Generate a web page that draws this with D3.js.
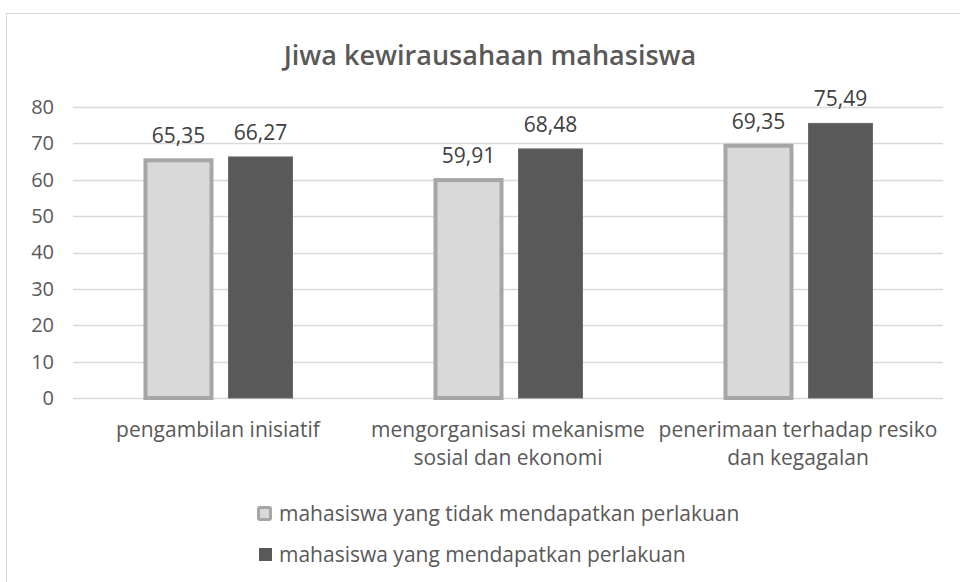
<!DOCTYPE html>
<html>
<head>
<meta charset="utf-8">
<script src="https://cdn.jsdelivr.net/npm/d3@7"></script>
<style>
  body { margin: 0; background: #fff; }
  svg text { font-family: "Open Sans", sans-serif; }
</style>
</head>
<body>
<div id="chart"></div>
<script>
(function() {
    'use strict';

    // data
    var categories = [
        ["pengambilan inisiatif"],
        ["mengorganisasi mekanisme", "sosial dan ekonomi"],
        ["penerimaan terhadap resiko", "dan kegagalan"]
    ];
    var seriesNames = [
        "mahasiswa yang tidak mendapatkan perlakuan",
        "mahasiswa yang mendapatkan perlakuan"
    ];
    var tanpaPerlakuan = [65.35, 59.91, 69.35];
    var denganPerlakuan = [66.27, 68.48, 75.49];
    var yTicks = [0, 10, 20, 30, 40, 50, 60, 70, 80];

    var width = 960, height = 582;
    var plot = {left: 73, right: 943, top: 107, bottom: 398};

    var svg = d3.select("#chart").append("svg")
        .attr("width", width)
        .attr("height", height);

    // chart frame
    svg.append("rect")
        .attr("x", 6.5).attr("y", 13.5)
        .attr("width", width + 10).attr("height", height + 10)
        .attr("fill", "#fff")
        .attr("stroke", "#d9d9d9")
        .attr("stroke-width", 1);

    var catKeys = categories.map(function(d, i) { return i; });
    var x0 = d3.scaleBand().domain(catKeys).range([plot.left, plot.right]);
    var half = x0.bandwidth() / 2;
    var x1 = d3.scaleBand().domain([0, 1])
        .range([half - 80.5, half + 83.5])
        .paddingInner(0.195).paddingOuter(0.0975);
    var y = d3.scaleLinear().domain([0, 80]).range([plot.bottom, plot.top]);

    // title
    svg.append("text")
        .attr("x", 490).attr("y", 65)
        .attr("text-anchor", "middle")
        .style("font-size", "27px")
        .style("font-weight", 600)
        .style("fill", "#595959")
        .text("Jiwa kewirausahaan mahasiswa");

    // gridlines
    svg.append("g")
        .selectAll("line")
        .data(yTicks)
      .enter().append("line")
        .attr("x1", plot.left).attr("x2", plot.right)
        .attr("y1", function(d) { return Math.round(y(d)) + 0.5; })
        .attr("y2", function(d) { return Math.round(y(d)) + 0.5; })
        .attr("stroke", "#d9d9d9")
        .attr("stroke-width", 1.3);

    // y axis labels
    var yAxis = d3.axisLeft(y).tickValues(yTicks).tickSize(0).tickPadding(0);
    var gy = svg.append("g")
        .attr("transform", "translate(54,0)")
        .call(yAxis);
    gy.select(".domain").remove();
    gy.selectAll("text")
        .style("font-size", "20px")
        .style("fill", "#595959")
        .attr("font-family", null);

    // bars
    var groups = svg.append("g").selectAll(".grp")
        .data(catKeys)
      .enter().append("g")
        .attr("class", "grp")
        .attr("transform", function(d) { return "translate(" + x0(d) + ",0)"; });

    groups.append("rect")
        .attr("x", x1(0))
        .attr("width", x1.bandwidth())
        .attr("y", function(d) { return y(tanpaPerlakuan[d]); })
        .attr("height", function(d) { return y(0) - y(tanpaPerlakuan[d]); })
        .attr("fill", "#d9d9d9")
        .attr("stroke", "#a6a6a6")
        .attr("stroke-width", 4);

    groups.append("rect")
        .attr("x", x1(1) + 1)
        .attr("width", x1.bandwidth() - 2)
        .attr("y", function(d) { return y(denganPerlakuan[d]); })
        .attr("height", function(d) { return y(0) - y(denganPerlakuan[d]); })
        .attr("fill", "#595959")
        .attr("stroke", "#6b6b6b")
        .attr("stroke-width", 1);

    // value labels
    function fmt(v) { return v.toFixed(2).replace(".", ","); }

    groups.append("text")
        .attr("x", x1(0) + x1.bandwidth() / 2)
        .attr("y", function(d) { return y(tanpaPerlakuan[d]) - 17; })
        .attr("text-anchor", "middle")
        .style("font-size", "21px")
        .style("fill", "#404040")
        .text(function(d) { return fmt(tanpaPerlakuan[d]); });

    groups.append("text")
        .attr("x", x1(1) + x1.bandwidth() / 2)
        .attr("y", function(d) { return y(denganPerlakuan[d]) - 17; })
        .attr("text-anchor", "middle")
        .style("font-size", "21px")
        .style("fill", "#404040")
        .text(function(d) { return fmt(denganPerlakuan[d]); });

    // category labels
    groups.append("text")
        .attr("text-anchor", "middle")
        .style("font-size", "21px")
        .style("fill", "#595959")
        .selectAll("tspan")
        .data(function(d) { return categories[d]; })
      .enter().append("tspan")
        .attr("x", half)
        .attr("y", function(d, i) { return 437 + i * 28; })
        .text(function(d) { return d; });

    // legend
    var legend = svg.append("g").selectAll(".legend")
        .data(seriesNames)
      .enter().append("g")
        .attr("class", "legend")
        .attr("transform", function(d, i) { return "translate(0," + (521 + i * 41) + ")"; });

    legend.append("rect")
        .attr("x", function(d, i) { return i === 0 ? 258.5 : 259; })
        .attr("y", function(d, i) { return i === 0 ? -13.5 : -14; })
        .attr("width", function(d, i) { return i === 0 ? 12 : 13; })
        .attr("height", function(d, i) { return i === 0 ? 12 : 13; })
        .attr("rx", function(d, i) { return i === 0 ? 1.5 : 0; })
        .attr("fill", function(d, i) { return i === 0 ? "#d9d9d9" : "#595959"; })
        .attr("stroke", function(d, i) { return i === 0 ? "#a6a6a6" : "none"; })
        .attr("stroke-width", 3);

    legend.append("text")
        .attr("x", 279)
        .attr("y", 0)
        .style("font-size", "21px")
        .style("fill", "#595959")
        .text(function(d) { return d; });
})();
</script>
</body>
</html>
